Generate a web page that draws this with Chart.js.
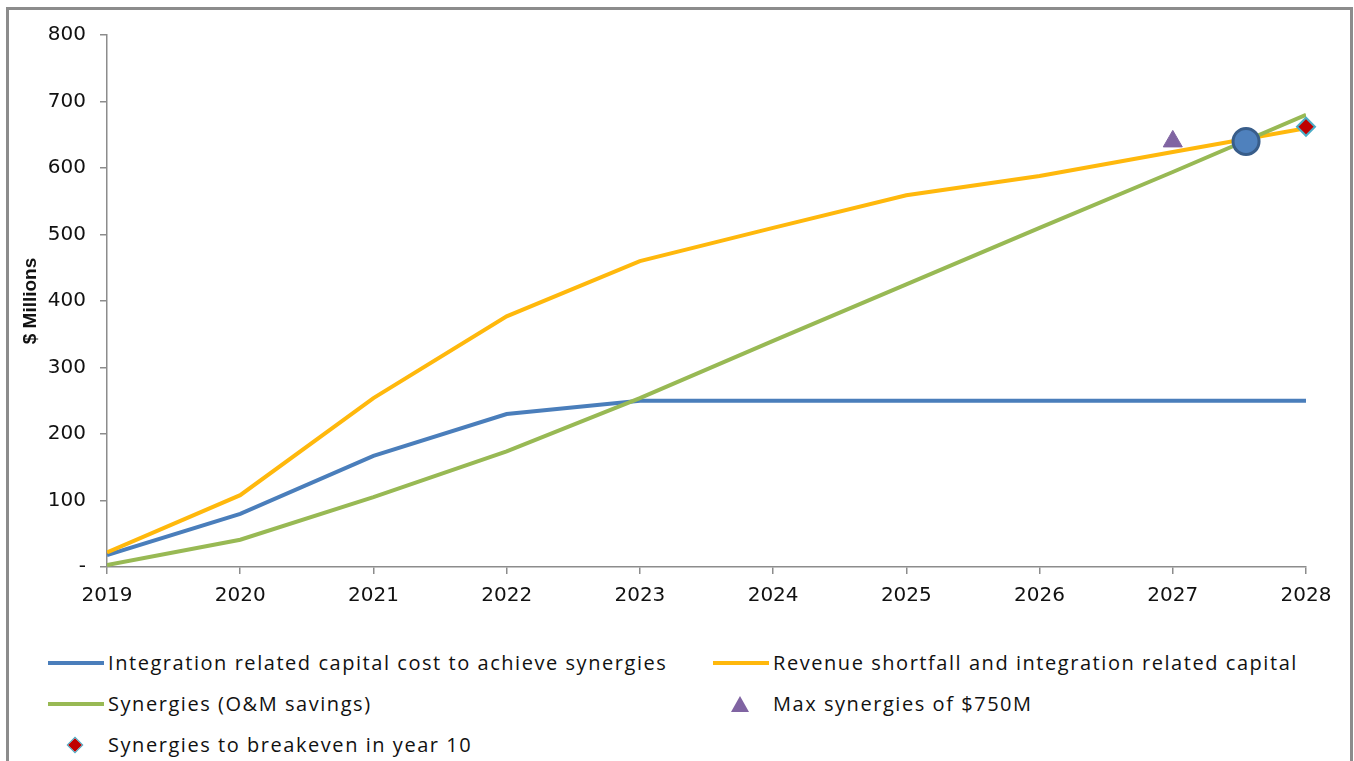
<!DOCTYPE html>
<html>
<head>
<meta charset="utf-8">
<script src="https://cdn.jsdelivr.net/npm/chart.js@4.4.1/dist/chart.umd.min.js"></script>
<style>
  body { margin: 0; background: #fff; width: 1354px; height: 761px; overflow: hidden; position: relative; }
  #frame { position: absolute; left: 6px; top: 7px; width: 1341px; height: 780px; border: 3px solid #8c8c8c; }
  #wrap { position: absolute; left: 0; top: 0; width: 1354px; height: 620px; }
  .leg { position: absolute; font-family: "Open Sans", sans-serif; font-size: 20px; letter-spacing: 1.55px; color: #111; line-height: 24px; white-space: nowrap; }
  .swatch { position: absolute; }
</style>
</head>
<body>
<div id="frame"></div>
<div id="wrap"><canvas id="chart"></canvas></div>
<div id="legend"></div>
<script>
// 年とデータ
const years = [2019, 2020, 2021, 2022, 2023, 2024, 2025, 2026, 2027, 2028];
const capitalCost = [18, 80, 167, 230, 250, 250, 250, 250, 250, 250];
const revenueShortfall = [22, 108, 254, 377, 460, 510, 559, 588, 624, 660];
const synergies = [3, 41, 105, 174, 254, 340, 425, 510, 594, 680];
const maxSynergy = [{ x: 2027, y: 640 }];
const breakeven = [{ x: 2028, y: 662 }];
const crossing = [{ x: 2027.55, y: 640 }];
const yTicks = [0, 100, 200, 300, 400, 500, 600, 700, 800];

const legendItems = [
  { text: 'Integration related capital cost to achieve synergies', type: 'line', color: '#4a7ebb', x: 48, y: 663 },
  { text: 'Revenue shortfall and integration related capital', type: 'line', color: '#ffb80c', x: 713, y: 663 },
  { text: 'Synergies (O&M savings)', type: 'line', color: '#98b954', x: 48, y: 704 },
  { text: 'Max synergies of $750M', type: 'tri', color: '#8064a2', x: 713, y: 704 },
  { text: 'Synergies to breakeven in year 10', type: 'dia', color: '#c00000', x: 48, y: 745 }
];

const toXY = arr => arr.map((v, i) => ({ x: years[i], y: v }));

const ctx = document.getElementById('chart').getContext('2d');
new Chart(ctx, {
  type: 'line',
  data: {
    datasets: [
      { label: 'crossing', data: crossing, showLine: false, clip: false, pointRadius: 13, pointBackgroundColor: '#4f81bd', pointBorderColor: '#385d8a', pointBorderWidth: 3, order: 0 },
      { label: 'Synergies to breakeven in year 10', data: breakeven, showLine: false, clip: false, pointStyle: 'rectRot', pointRadius: 9, pointBackgroundColor: '#c00000', pointBorderColor: '#4bacc6', pointBorderWidth: 2, order: 1 },
      { label: 'Max synergies of $750M', data: maxSynergy, showLine: false, clip: false, pointStyle: 'triangle', pointRadius: 11, pointBackgroundColor: '#8064a2', pointBorderColor: '#8064a2', order: 2 },
      { label: 'Synergies (O&M savings)', data: toXY(synergies), borderColor: '#98b954', borderWidth: 4, pointRadius: 0, tension: 0, order: 3 },
      { label: 'Revenue shortfall and integration related capital', data: toXY(revenueShortfall), borderColor: '#ffb80c', borderWidth: 4, pointRadius: 0, tension: 0, order: 4 },
      { label: 'Integration related capital cost to achieve synergies', data: toXY(capitalCost), borderColor: '#4a7ebb', borderWidth: 4, pointRadius: 0, tension: 0, order: 5 }
    ]
  },
  options: {
    responsive: true,
    maintainAspectRatio: false,
    animation: false,
    layout: { padding: { left: 0, right: 48, top: 35, bottom: 0 } },
    plugins: { legend: { display: false }, tooltip: { enabled: false } },
    scales: {
      x: {
        type: 'linear',
        min: 2019,
        max: 2028,
        afterFit: s => { s.height = 53; },
        afterBuildTicks: s => { s.ticks = years.map(v => ({ value: v })); },
        grid: { drawOnChartArea: false, drawTicks: true, tickLength: 7, color: '#8c8c8c', lineWidth: 1.5 },
        border: { color: '#8c8c8c', width: 1.5 },
        ticks: { padding: 10, color: '#111', font: { family: 'DejaVu Sans', size: 20 }, callback: v => String(v) }
      },
      y: {
        min: 0,
        max: 800,
        afterFit: s => { s.width = 107; },
        afterBuildTicks: s => { s.ticks = yTicks.map(v => ({ value: v })); },
        grid: { drawOnChartArea: false, drawTicks: true, tickLength: 7, color: '#8c8c8c', lineWidth: 1.5 },
        border: { color: '#8c8c8c', width: 1.5 },
        ticks: { padding: 14, color: '#111', font: { family: 'DejaVu Sans', size: 20 }, callback: v => v === 0 ? '-' : v },
        title: { display: true, text: '$ Millions', color: '#111', padding: { top: 19 }, font: { family: 'Liberation Sans', size: 19, weight: 'bold' } }
      }
    }
  }
});

// 凡例
const legendBox = document.getElementById('legend');
legendItems.forEach(item => {
  let sw;
  if (item.type === 'line') {
    sw = `<div class="swatch" style="left:${item.x}px;top:${item.y - 2}px;width:56px;height:4px;background:${item.color}"></div>`;
  } else if (item.type === 'tri') {
    sw = `<div class="swatch" style="left:${item.x + 18}px;top:${item.y - 8}px;width:0;height:0;border-left:9px solid transparent;border-right:9px solid transparent;border-bottom:16px solid ${item.color}"></div>`;
  } else {
    sw = `<div class="swatch" style="left:${item.x + 22}px;top:${item.y - 5}px;width:10px;height:10px;background:${item.color};transform:rotate(45deg);outline:1px solid #4bacc6"></div>`;
  }
  legendBox.innerHTML += sw + `<div class="leg" style="left:${item.x + 60}px;top:${item.y - 12}px">${item.text.replace('&', '&amp;')}</div>`;
});
</script>
</body>
</html>
